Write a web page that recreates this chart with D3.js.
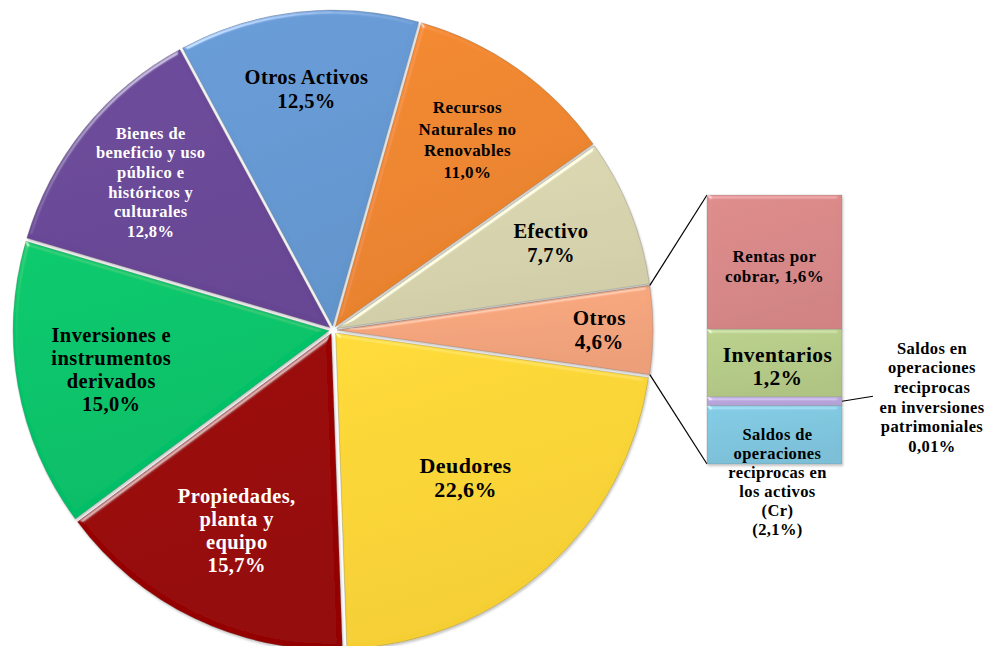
<!DOCTYPE html>
<html>
<head>
<meta charset="utf-8">
<script src="https://cdn.jsdelivr.net/npm/d3@7"></script>
<style>
  body { margin: 0; background: #fff; }
  text { font-family: "Liberation Serif", "Times New Roman", serif; font-weight: bold; letter-spacing: 0.4px; }
</style>
</head>
<body>
<svg id="chart" width="987" height="646"></svg>
<script>
// pie slices, clockwise, starting with the slice that is broken out into the bar
var sliceNames = [
  ["Otros"],
  ["Deudores"],
  ["Propiedades,", "planta y", "equipo"],
  ["Inversiones e", "instrumentos", "derivados"],
  ["Bienes de", "beneficio y uso", "público e", "históricos y", "culturales"],
  ["Otros Activos"],
  ["Recursos", "Naturales  no", "Renovables"],
  ["Efectivo"]
];
var sliceValues = [4.6, 22.6, 15.7, 15.0, 12.8, 12.5, 11.0, 7.7];
var sliceColors = ["#f5a57c", "#fdd535", "#990404", "#05c46a", "#6a4898", "#6699d3", "#ee862e", "#d8d4ae"];
var sliceTextColors = ["#000", "#000", "#fff", "#000", "#fff", "#000", "#000", "#000"];

// bar of "Otros", top to bottom
var barNames = ["Rentas  por", "Inventarios", "Saldos en operaciones reciprocas en inversiones patrimoniales", "Saldos de operaciones reciprocas en los activos (Cr)"];
var barLabels = ["1,6%", "1,2%", "0,01%", "(2,1%)"];
var barPlotted = [2.3, 1.16, 0.15, 1.0];   // sizes as drawn in the bar
var barColors = ["#d98888", "#b5cb88", "#b9a6dd", "#7fc6df"];

var width = 987, height = 646;
var cx = 333, cy = 330, R = 316, explode = 4;

// label layout (radius as fraction of R, font size, line height)
var labelStyle = [
  { r: 0.83, fs: 21, lh: 23.5 },
  { r: 0.615, fs: 22, lh: 24 },
  { r: 0.69, fs: 20.5, lh: 23 },
  { r: 0.70, fs: 20.5, lh: 23 },
  { r: 0.73, fs: 16.5, lh: 19.6 },
  { r: 0.755, fs: 20.5, lh: 23.5 },
  { r: 0.725, fs: 17, lh: 21.7 },
  { r: 0.73, fs: 20.5, lh: 24 }
];

function pct(v) { return v.toFixed(1).replace(".", ",") + "%"; }

var svg = d3.select("#chart");
var defs = svg.append("defs");

// soft bevel + shadow
var f = defs.append("filter").attr("id", "bevel")
  .attr("x", "-5%").attr("y", "-5%").attr("width", "115%").attr("height", "115%");
f.append("feGaussianBlur").attr("in", "SourceAlpha").attr("stdDeviation", 2).attr("result", "blur");
var spec = f.append("feSpecularLighting").attr("in", "blur").attr("surfaceScale", 3)
  .attr("specularConstant", 0.45).attr("specularExponent", 30)
  .attr("lighting-color", "#ffffff").attr("result", "spec");
spec.append("feDistantLight").attr("azimuth", 240).attr("elevation", 25);
f.append("feComposite").attr("in", "spec").attr("in2", "SourceAlpha").attr("operator", "in").attr("result", "specIn");
f.append("feComposite").attr("in", "SourceGraphic").attr("in2", "specIn").attr("operator", "arithmetic")
  .attr("k1", 0).attr("k2", 1).attr("k3", 1).attr("k4", 0).attr("result", "lit");
f.append("feOffset").attr("in", "SourceAlpha").attr("dx", 1).attr("dy", 1.5).attr("result", "off");
f.append("feGaussianBlur").attr("in", "off").attr("stdDeviation", 1.2).attr("result", "offBlur");
f.append("feFlood").attr("flood-color", "#000").attr("flood-opacity", 0.22).attr("result", "flood");
f.append("feComposite").attr("in", "flood").attr("in2", "offBlur").attr("operator", "in").attr("result", "shadow");
var m = f.append("feMerge");
m.append("feMergeNode").attr("in", "shadow");
m.append("feMergeNode").attr("in", "lit");

function addGradient(id, c) {
  var g = defs.append("linearGradient").attr("id", id)
    .attr("x1", 0).attr("y1", 0).attr("x2", 0.3).attr("y2", 1);
  g.append("stop").attr("offset", "0%").attr("stop-color", d3.color(c).brighter(0.08));
  g.append("stop").attr("offset", "100%").attr("stop-color", d3.color(c).darker(0.1));
}
sliceColors.forEach(function (c, i) { addGradient("sg" + i, c); });
barColors.forEach(function (c, i) { addGradient("bg" + i, c); });

// ---- pie
var total = d3.sum(sliceValues);
var a0 = Math.PI / 2 - Math.PI * sliceValues[0] / total;
var pie = d3.pie().sort(null).startAngle(a0).endAngle(a0 + 2 * Math.PI);
var arcs = pie(sliceValues);
var arc = d3.arc().innerRadius(0).outerRadius(R);

function offsetOf(d) {
  var mid = (d.startAngle + d.endAngle) / 2;
  return [explode * Math.sin(mid), -explode * Math.cos(mid)];
}

var slices = svg.append("g").attr("transform", "translate(" + cx + "," + cy + ")")
  .selectAll("g.slice").data(arcs).enter().append("g")
  .attr("class", "slice")
  .attr("transform", function (d) { var o = offsetOf(d); return "translate(" + o[0] + "," + o[1] + ")"; });

slices.append("path")
  .attr("d", arc)
  .attr("fill", function (d, i) { return "url(#sg" + i + ")"; })
  .attr("stroke", "rgba(90,90,90,0.35)")
  .attr("stroke-width", 0.8)
  .attr("filter", "url(#bevel)");

slices.each(function (d, i) {
  var st = labelStyle[i];
  var mid = (d.startAngle + d.endAngle) / 2;
  var lx = st.r * R * Math.sin(mid), ly = -st.r * R * Math.cos(mid);
  var lines = sliceNames[i].concat([pct(sliceValues[i])]);
  var first = ly - (lines.length - 1) * st.lh / 2 + st.fs * 0.34;
  var t = d3.select(this).append("text")
    .attr("text-anchor", "middle")
    .attr("font-size", st.fs)
    .attr("fill", sliceTextColors[i]);
  lines.forEach(function (s, k) {
    t.append("tspan").attr("x", lx).attr("y", first + k * st.lh).text(s);
  });
});

// ---- bar of pie
var barX = 707, barW = 135;
var y = d3.scaleLinear().domain([0, d3.sum(barPlotted)]).range([195, 464]);
var stacked = [];
var acc = 0;
barPlotted.forEach(function (v, i) { stacked.push({ i: i, y0: acc, y1: acc + v }); acc += v; });

// connector lines from Otros slice edges to the bar
var otros = arcs[0], oo = offsetOf(otros);
function rim(a) { return [cx + oo[0] + R * Math.sin(a), cy + oo[1] - R * Math.cos(a)]; }
var pTop = rim(otros.startAngle), pBot = rim(otros.endAngle);
svg.append("line").attr("x1", pTop[0]).attr("y1", pTop[1]).attr("x2", barX).attr("y2", y(0))
  .attr("stroke", "#000").attr("stroke-width", 1.2);
svg.append("line").attr("x1", pBot[0]).attr("y1", pBot[1]).attr("x2", barX).attr("y2", y(acc))
  .attr("stroke", "#000").attr("stroke-width", 1.2);

svg.append("g").selectAll("rect").data(stacked).enter().append("rect")
  .attr("x", barX)
  .attr("y", function (d) { return y(d.y0); })
  .attr("width", barW)
  .attr("height", function (d) { return y(d.y1) - y(d.y0); })
  .attr("fill", function (d) { return "url(#bg" + d.i + ")"; })
  .attr("stroke", "rgba(120,120,120,0.35)")
  .attr("stroke-width", 0.8)
  .attr("filter", "url(#bevel)");

var bx = barX + barW / 2;
function block(x, yMid, lines, fs, lh) {
  var first = yMid - (lines.length - 1) * lh / 2 + fs * 0.34;
  var t = svg.append("text").attr("text-anchor", "middle").attr("font-size", fs).attr("fill", "#000");
  lines.forEach(function (s, k) { t.append("tspan").attr("x", x).attr("y", first + k * lh).text(s); });
}
var s0 = stacked[0], s1 = stacked[1], s2 = stacked[2], s3 = stacked[3];
block(bx, (y(s0.y0) + y(s0.y1)) / 2 + 4, [barNames[0], "cobrar,  " + barLabels[0]], 17, 20);
block(bx + 3, (y(s1.y0) + y(s1.y1)) / 2 + 3, [barNames[1], barLabels[1]], 21.5, 23);
block(bx + 3, y(s3.y0) + 76, ["Saldos de", "operaciones", "reciprocas en", "los activos", "(Cr)", barLabels[3]], 16.5, 19);

// leader and label for the thin slice
var midThin = (y(s2.y0) + y(s2.y1)) / 2;
svg.append("line").attr("x1", barX + barW).attr("y1", midThin).attr("x2", barX + barW + 31).attr("y2", midThin - 5)
  .attr("stroke", "#000").attr("stroke-width", 1.2);
block(932, midThin - 4, ["Saldos en", "operaciones", "reciprocas", "en inversiones", "patrimoniales", barLabels[2]], 16.5, 19.6);
</script>
</body>
</html>
